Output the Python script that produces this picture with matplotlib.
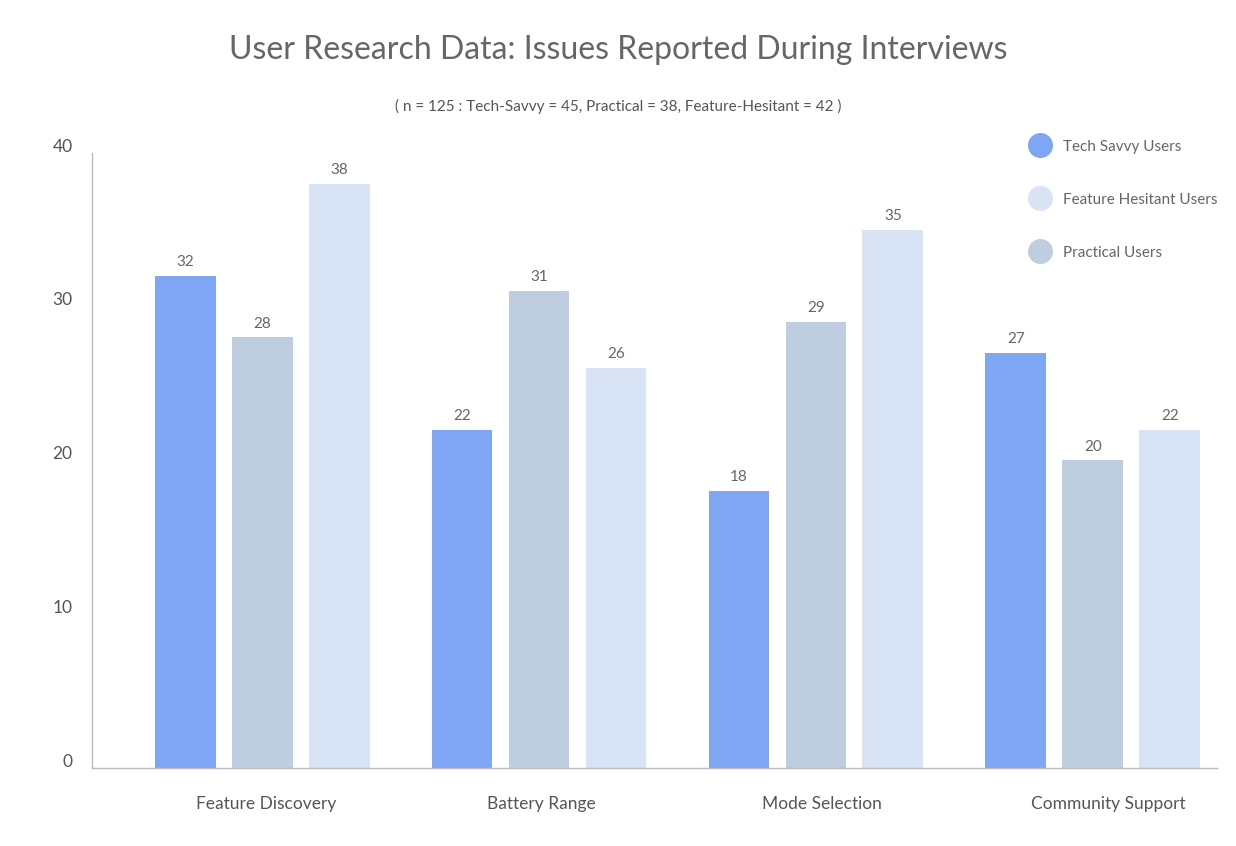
import matplotlib.pyplot as plt
import matplotlib.transforms as mtransforms
from matplotlib.lines import Line2D
import numpy as np

categories = ["Feature Discovery", "Battery Range", "Mode Selection", "Community Support"]
tech_savvy = [32, 22, 18, 27]
practical = [28, 31, 29, 20]
feature_hesitant = [38, 26, 35, 22]
yticks = [0, 10, 20, 30, 40]

blue = "#7EA6F4"
gray_blue = "#BFCDE1"
light_blue = "#D8E4F5"
text_col = "#666666"

plt.rcParams["font.family"] = ["Lato", "DejaVu Sans"]

fig = plt.figure(figsize=(12.36, 8.46), dpi=100)
ax = fig.add_axes([92 / 1236, 1 - 768 / 846, 1125 / 1236, 615 / 846])

x = np.arange(len(categories))
w = 0.22
off = 0.278
series = [(tech_savvy, blue, -off), (practical, gray_blue, 0), (feature_hesitant, light_blue, off)]
for vals, col, dx in series:
    bars = ax.bar(x + dx, vals, width=w, color=col, zorder=2)
    for b, v in zip(bars, vals):
        ax.annotate(str(v), (b.get_x() + b.get_width() / 2, b.get_height()),
                    xytext=(0, 5), textcoords="offset points", ha="center", va="bottom",
                    fontsize=11, color=text_col)

ax.set_xlim(-0.614, 3.448)
ax.set_ylim(0, 40)
ax.set_yticks(yticks)
# category labels sit slightly right of the bar groups in the original
ax.set_xticks(x + np.array([0.015, 0.008, 0.02, 0.055]))
ax.set_xticklabels(categories, fontsize=12.5, color="#555555")
ax.tick_params(axis="x", length=0, pad=20)
ax.tick_params(axis="y", length=0, pad=14, labelsize=12.5, labelcolor="#555555")
shift = mtransforms.ScaledTranslation(0, 8 / 100, fig.dpi_scale_trans)
for lab in ax.get_yticklabels():
    lab.set_transform(lab.get_transform() + shift)

for s in ["top", "right"]:
    ax.spines[s].set_visible(False)
for s in ["left", "bottom"]:
    ax.spines[s].set_color("#BBBBBB")
    ax.spines[s].set_linewidth(1)

fig.text(0.5, 1 - 50 / 846, "User Research Data: Issues Reported During Interviews",
         ha="center", va="center", fontsize=23, color=text_col)
fig.text(0.5, 1 - 106 / 846, "( n = 125 : Tech-Savvy = 45, Practical = 38, Feature-Hesitant = 42 )",
         ha="center", va="center", fontsize=11, color="#555555")

handles = [Line2D([], [], marker="o", linestyle="none", markersize=17, color=c)
           for c in [blue, light_blue, gray_blue]]
labels = ["Tech Savvy Users", "Feature Hesitant Users", "Practical Users"]
leg = fig.legend(handles, labels, loc="upper left", bbox_to_anchor=(1015 / 1236, 1 - 126 / 846),
                 frameon=False, fontsize=11, labelspacing=2.55, handletextpad=0.75,
                 handlelength=1.5, labelcolor=text_col)

fig.savefig("out.png", dpi=100)
